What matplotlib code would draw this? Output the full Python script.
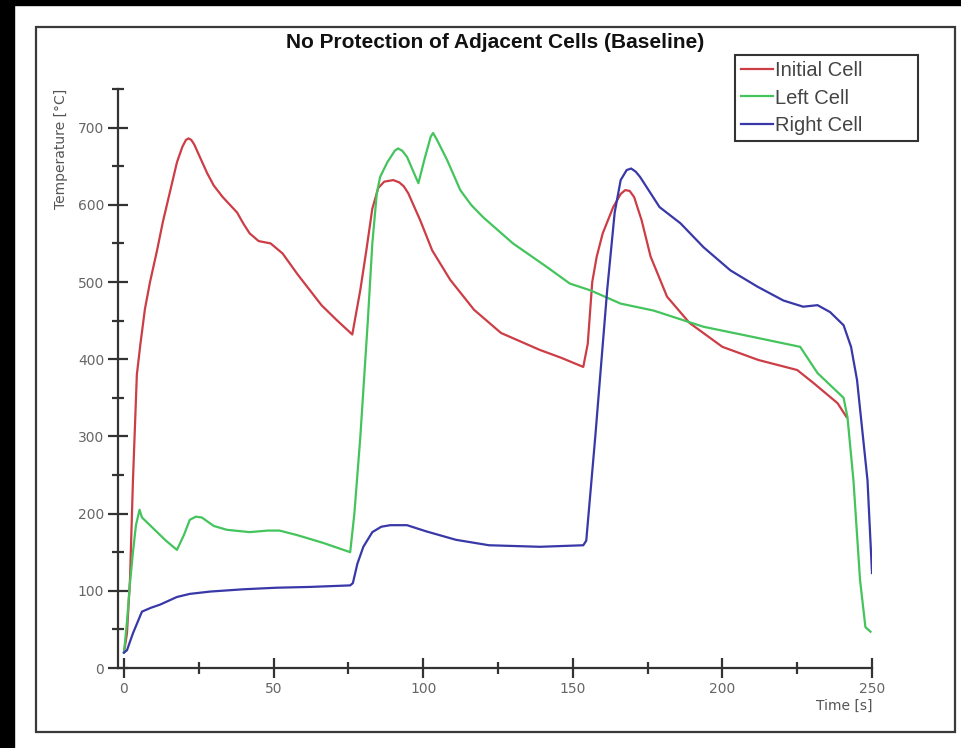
import matplotlib
matplotlib.use("Agg")
import matplotlib.pyplot as plt
from matplotlib.patches import Rectangle

# temperature traces of the three cells
initial_t = [0, 1, 2, 3, 4.3, 5.5, 7, 8.7, 11, 13, 17.7, 19.5, 20.7, 21.6, 22.5, 23.5, 25,
             27.8, 30, 33, 37.8, 40, 42, 45, 49, 53, 58, 62, 66, 71, 76.3, 79, 81, 83, 85,
             87, 90, 92, 93.5, 95, 99, 103, 109, 117, 126, 139, 146, 153.5, 155, 156.5,
             158, 160, 163.5, 166, 167.5, 169, 170.5, 173, 176, 181.5, 189, 200, 212, 225,
             230.5, 238.5, 241.5]
initial_temp = [20, 45, 114, 243, 380, 420, 465, 500, 540, 578, 655, 675, 684, 686, 684,
                678, 665, 641, 625, 610, 590, 575, 563, 553, 550, 537, 510, 490, 470, 451,
                432, 490, 541, 595, 622, 630, 632, 629, 624, 615, 580, 541, 503, 464, 434,
                412, 402, 390, 420, 500, 533, 563, 597, 614, 619, 618, 610, 580, 533, 481,
                447, 416, 399, 386, 369, 343, 325]

left_t = [0, 1, 2, 3, 4, 5.2, 6, 10, 14, 17.7, 20, 22, 24, 26, 30, 34.4, 42, 48, 52, 58,
          66.6, 75.6, 77, 79, 80, 81.5, 83, 84.5, 85.6, 88, 90.5, 91.6, 93, 94.6, 96.5,
          98.4, 100.5, 102.5, 103.3, 104.5, 108, 112.4, 116, 120, 130, 141.5, 149, 156,
          166, 177, 193.7, 210, 226, 231.8, 240.5, 241.8, 243.8, 246, 247.8, 249.5]
left_temp = [20, 60, 110, 150, 185, 205, 195, 180, 165, 153, 172, 192, 196, 195, 184, 179,
             176, 178, 178, 172, 162, 150, 200, 300, 360, 450, 550, 615, 636, 655, 670, 673,
             670, 662, 645, 628, 660, 688, 693, 685, 658, 619, 600, 584, 550, 519, 498, 489,
             472, 463, 442, 429, 416, 382, 350, 325, 243, 114, 53, 47]

right_t = [0, 1, 3, 6, 9, 12, 17.7, 22, 28.8, 40, 51, 62, 75.6, 76.5, 78, 80, 83, 86, 89,
           94.6, 101, 111, 122, 139, 153.5, 154.5, 157.5, 161.5, 164, 166, 168, 169.5, 171,
           172.5, 179, 186, 193.7, 202.7, 211.7, 220.4, 227, 231.8, 236, 240.5, 243, 245,
           248.5, 250]
right_temp = [20, 23, 45, 73, 78, 82, 92, 96, 99, 102, 104, 105, 107, 110, 135, 157, 176,
              183, 185, 185, 177, 166, 159, 157, 159, 165, 299, 490, 590, 632, 645, 647, 643,
              636, 597, 576, 545, 515, 494, 476, 468, 470, 461, 444, 416, 373, 243, 123]

series_names = ["Initial Cell", "Left Cell", "Right Cell"]
series_colors = ["#cc3d45", "#44c45c", "#3838a8"]

W, H = 961, 748
fig = plt.figure(figsize=(W / 100, H / 100), dpi=100, facecolor="white")

# dark margin on the left and top, then the framed white panel
fig.patches.append(Rectangle((0, 0), 14 / W, 1, transform=fig.transFigure,
                             color="black", zorder=0))
fig.patches.append(Rectangle((0, 1 - 5 / H), 1, 5 / H, transform=fig.transFigure,
                             color="black", zorder=0))
fig.patches.append(Rectangle((36 / W, 1 - 732 / H), (955 - 36) / W, (732 - 27) / H,
                             transform=fig.transFigure, fill=False,
                             edgecolor="#3a3a3a", linewidth=1.6, zorder=1))

ax = fig.add_axes([118 / W, 1 - 668 / H, 754 / W, 579 / H])
ax.patch.set_alpha(0)

for t, v, name, c in zip([initial_t, left_t, right_t],
                         [initial_temp, left_temp, right_temp],
                         series_names, series_colors):
    ax.plot(t, v, color=c, linewidth=1.6, label=name, solid_joinstyle="round")

ax.set_xlim(-2, 250)
ax.set_ylim(0, 750)
ax.set_xticks(range(0, 251, 50))
ax.set_xticks(range(25, 250, 50), minor=True)
ax.set_yticks(range(0, 701, 100))
ax.set_yticks(range(50, 751, 100), minor=True)

for side in ["top", "right"]:
    ax.spines[side].set_visible(False)
for side in ["left", "bottom"]:
    ax.spines[side].set_color("#333333")
    ax.spines[side].set_linewidth(1.6)

ax.tick_params(which="major", direction="inout", length=14, width=1.6,
               color="#333333", labelsize=10, labelcolor="#666666", pad=3)
ax.tick_params(which="minor", direction="inout", length=8, width=1.6,
               color="#333333")

ax.set_xlabel("Time [s]", loc="right", fontsize=10, color="#555555", labelpad=2)
ax.set_ylabel("Temperature [°C]", loc="top", fontsize=10, color="#555555", labelpad=7)

fig.text(495 / W, 1 - 42 / H, "No Protection of Adjacent Cells (Baseline)",
         ha="center", va="center", fontsize=15, fontweight="bold",
         family="Liberation Sans", color="#111111")

leg = ax.legend(loc="upper left",
                bbox_to_anchor=(735 / W, 1 - 140 / H, 183 / W, 85 / H),
                bbox_transform=fig.transFigure, mode="expand", borderaxespad=0,
                frameon=True, fancybox=False, framealpha=1, edgecolor="#333333",
                prop={"family": "Liberation Sans", "size": 14.5},
                labelcolor="#444444", borderpad=0.3, handlelength=1.6,
                handletextpad=0.1, labelspacing=0.42)
leg.get_frame().set_linewidth(1.5)

fig.savefig("out.png", dpi=100, facecolor=fig.get_facecolor())
